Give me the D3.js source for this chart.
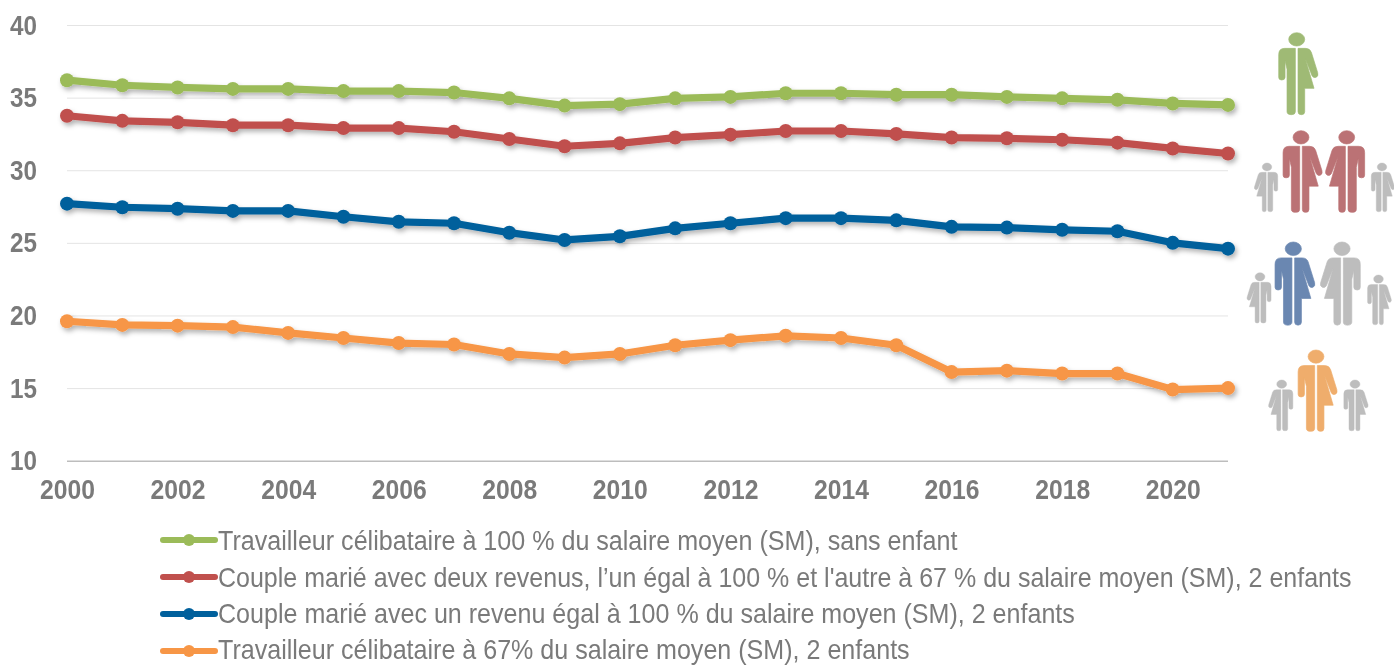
<!DOCTYPE html>
<html><head><meta charset="utf-8">
<script src="https://cdn.jsdelivr.net/npm/d3@7"></script>
<style>
html,body{margin:0;padding:0;background:#fff;overflow:hidden}
text{font-family:"Liberation Sans",sans-serif}
</style></head><body><svg id="c" width="1394" height="665"></svg>
<script>
const years = d3.range(2000, 2022);
const yearTicks = [2000,2002,2004,2006,2008,2010,2012,2014,2016,2018,2020];
const valueTicks = [10,15,20,25,30,35,40];
const green = [36.2,35.85,35.7,35.6,35.6,35.45,35.45,35.35,34.95,34.45,34.55,34.95,35.05,35.3,35.3,35.2,35.2,35.05,34.95,34.85,34.6,34.5];
const red = [33.75,33.4,33.3,33.1,33.1,32.9,32.9,32.65,32.15,31.65,31.85,32.25,32.45,32.7,32.7,32.5,32.25,32.2,32.1,31.9,31.5,31.15];
const blue = [27.7,27.45,27.35,27.2,27.2,26.8,26.45,26.35,25.7,25.2,25.45,26.0,26.35,26.7,26.7,26.55,26.1,26.05,25.9,25.8,25.0,24.6];
const orange = [19.6,19.35,19.3,19.2,18.8,18.45,18.1,18.0,17.35,17.1,17.35,17.95,18.3,18.6,18.45,17.95,16.1,16.2,16.0,16.0,14.9,15.0];
const labels = [
 "Travailleur célibataire à 100 % du salaire moyen (SM), sans enfant",
 "Couple marié avec deux revenus, l’un égal à 100 % et l'autre à 67 % du salaire moyen (SM), 2 enfants",
 "Couple marié avec un revenu égal à 100 % du salaire moyen (SM), 2 enfants",
 "Travailleur célibataire à 67% du salaire moyen (SM), 2 enfants"];
const labelWidths = [740,1134,857,692];
const colors = ["#9BBB59","#C0504D","#00609C","#F79646"];
const series = [green,red,blue,orange];

const svg = d3.select("#c");
const defs = svg.append("defs");
const f = defs.append("filter").attr("id","sh").attr("x","-5%").attr("y","-20%").attr("width","110%").attr("height","150%");
f.append("feDropShadow").attr("dx",2).attr("dy",3).attr("stdDeviation",2.5).attr("flood-color","#000").attr("flood-opacity",0.3);
const soft = defs.append("filter").attr("id","soft");
soft.append("feGaussianBlur").attr("stdDeviation",0.5);
const softer = defs.append("filter").attr("id","softer").attr("x","-2%").attr("y","-20%").attr("width","104%").attr("height","140%");
softer.append("feGaussianBlur").attr("stdDeviation",0.35);

const x = d3.scaleLinear().domain([2000,2021]).range([67,1228]);
const y = d3.scaleLinear().domain([10,40]).range([460.7,25]);

const gy = svg.append("g").attr("transform","translate(67,0)").call(
  d3.axisLeft(y).tickValues(valueTicks).tickSize(-1161).tickPadding(0));
gy.select(".domain").remove();
gy.selectAll(".tick line").attr("stroke",d=>d===10?"#bdbdbd":"#e4e4e4").attr("stroke-width",d=>d===10?1.5:1);
gy.selectAll(".tick text").attr("x",-30).attr("y",-1).attr("dy","0.36em").attr("fill","#7a7a7a")
  .attr("font-size",28).attr("font-weight","bold")
  .attr("textLength",27).attr("lengthAdjust","spacingAndGlyphs").attr("filter","url(#softer)");

const gx = svg.append("g").attr("transform","translate(0,460.7)").call(
  d3.axisBottom(x).tickValues(yearTicks).tickFormat(d3.format("d")).tickSize(0));
gx.select(".domain").remove();
gx.selectAll(".tick text").attr("y",28).attr("dy","0.36em").attr("fill","#7a7a7a")
  .attr("font-size",28).attr("font-weight","bold")
  .attr("textLength",55).attr("lengthAdjust","spacingAndGlyphs").attr("filter","url(#softer)");

const line = d3.line().x((d,i)=>x(years[i])).y(d=>y(d));
series.forEach((s,k)=>{
  const g = svg.append("g").attr("filter","url(#sh)");
  g.append("path").attr("d",line(s)).attr("fill","none").attr("stroke",colors[k]).attr("stroke-width",7.2).attr("stroke-linejoin","round");
  g.selectAll("circle").data(s).join("circle").attr("cx",(d,i)=>x(years[i])).attr("cy",d=>y(d)).attr("r",7).attr("fill",colors[k]);
});

const legendY = [540,577,614,651];
const legendBase = [550,587,623,658.5];
labels.forEach((t,k)=>{
  const g = svg.append("g");
  g.append("line").attr("x1",163).attr("x2",215).attr("y1",legendY[k]).attr("y2",legendY[k]).attr("stroke",colors[k]).attr("stroke-width",6).attr("stroke-linecap","round");
  g.append("circle").attr("cx",189).attr("cy",legendY[k]).attr("r",6).attr("fill",colors[k]);
  const txt = g.append("text").attr("fill","#7a7a7a").attr("font-size",27).text(t);
  const sx = labelWidths[k] / txt.node().getComputedTextLength();
  txt.attr("transform",`translate(218,${legendBase[k]}) scale(${sx},1)`).attr("filter","url(#softer)");
});

// pictograms: half-man / half-woman figure, local units 247 tall, origin top centre
const figure = "M0,0 m-24,20 a24,20 0 1,0 48,0 a24,20 0 1,0 -48,0 Z " +
 "M-4,47 L-4,237 Q-4,246 -16,246 Q-29,246 -29,237 L-29,110 L-35,84 L-35,134 Q-35,142 -45,142 Q-54,142 -54,134 L-54,66 Q-54,47 -36,47 Z " +
 "M4,47 L26,47 Q40,47 44,59 L63,120 Q66,131 58,134 Q50,137 46,129 L26,78 L52,167 L24,167 L24,237 Q24,246 14,246 Q4,246 4,237 Z";
const figures = [
 {c:"#9FBA74",cx:1296.7,top:32.7,h:82.3,m:1},
 {c:"#BB7274",cx:1301,top:130.7,h:82,m:1},
 {c:"#BB7274",cx:1346.7,top:130.7,h:82,m:-1},
 {c:"#BDBDBD",cx:1267,top:163,h:49,m:-1},
 {c:"#BDBDBD",cx:1382,top:163,h:49,m:1},
 {c:"#6B87B1",cx:1293.3,top:242,h:83.5,m:1},
 {c:"#BDBDBD",cx:1342,top:242,h:83.5,m:-1},
 {c:"#BDBDBD",cx:1260,top:272.7,h:50.5,m:-1},
 {c:"#BDBDBD",cx:1378.5,top:275,h:50,m:1},
 {c:"#EFAD6C",cx:1316,top:350,h:81.7,m:1},
 {c:"#BDBDBD",cx:1281.7,top:380,h:51,m:-1},
 {c:"#BDBDBD",cx:1355,top:380,h:51,m:1}
];
svg.append("g").attr("filter","url(#soft)").selectAll("path").data(figures).join("path")
  .attr("d",figure).attr("fill",d=>d.c).attr("stroke",d=>d.c).attr("stroke-width",2).attr("stroke-linejoin","round")
  .attr("transform",d=>`translate(${d.cx},${d.top}) scale(${d.m*d.h/247},${d.h/247})`);
</script></body></html>
